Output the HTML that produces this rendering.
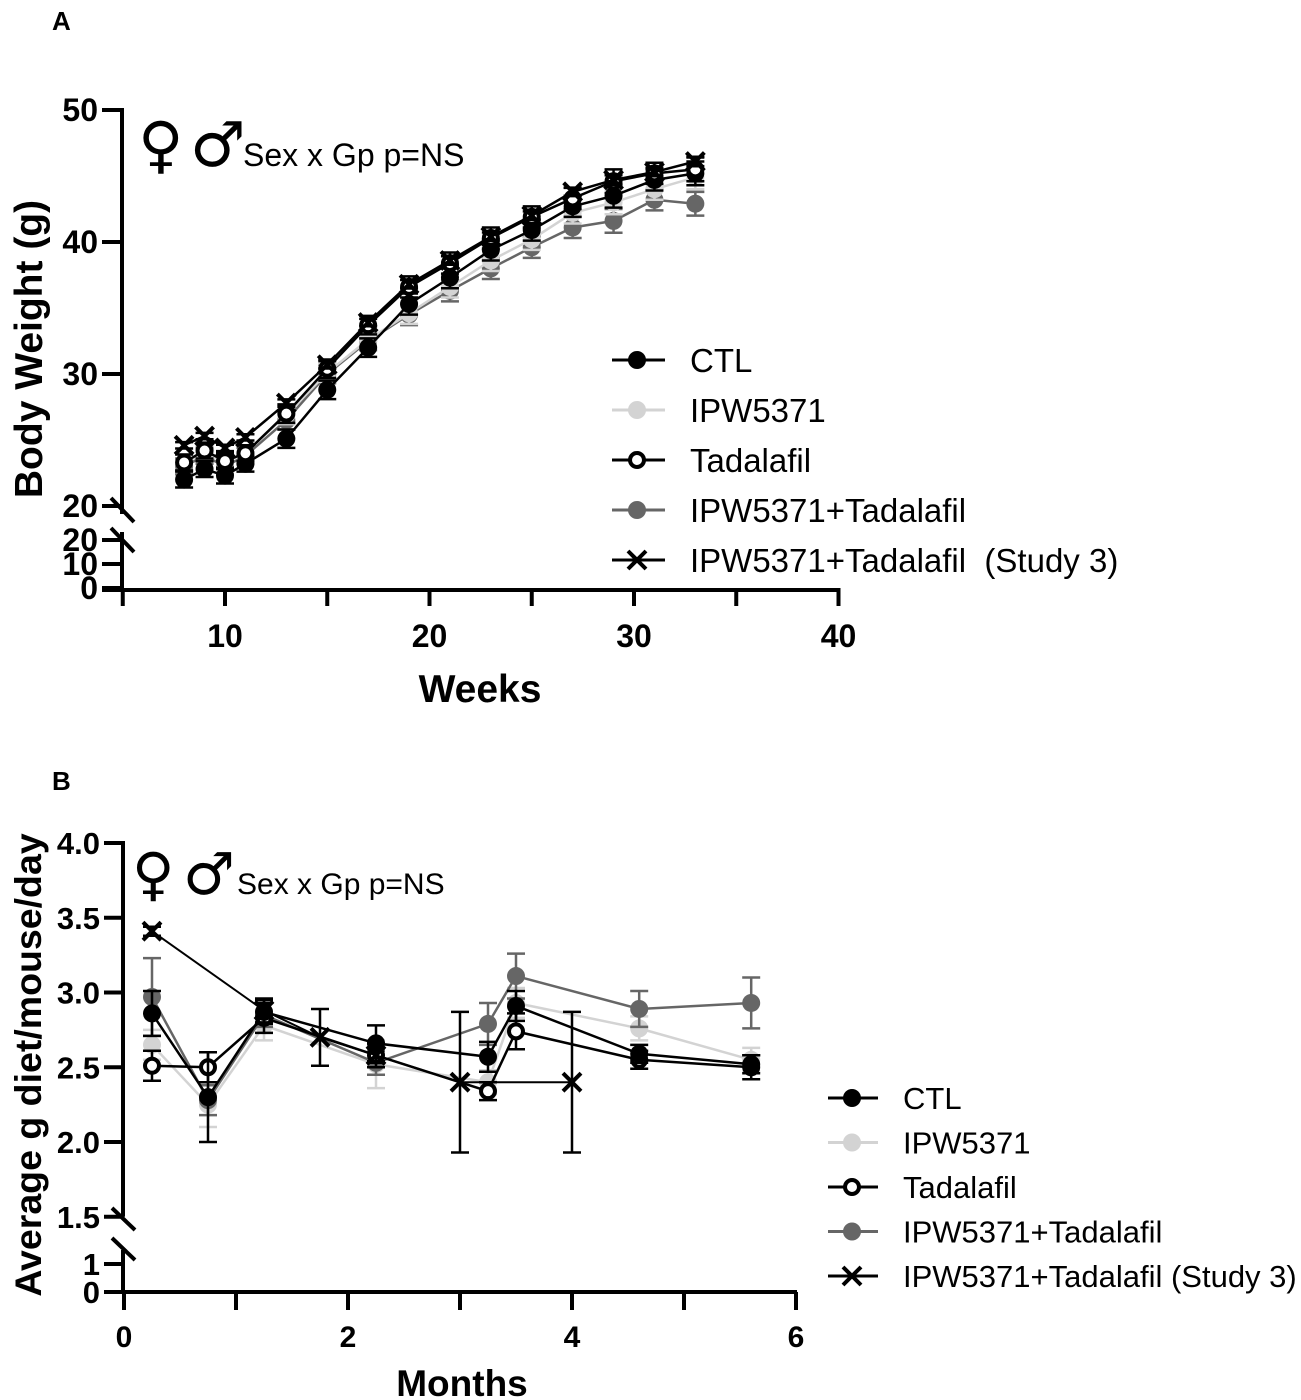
<!DOCTYPE html>
<html><head><meta charset="utf-8"><style>
html,body{margin:0;padding:0;background:#fff;}
svg{display:block;font-family:"Liberation Sans",Arial,sans-serif;}
.sym{font-family:"DejaVu Sans",sans-serif;font-weight:bold;}
</style></head><body>
<svg id="fig" width="1301" height="1400" viewBox="0 0 1301 1400">
<g id="A">
<text x="52" y="30" font-size="26" font-weight="bold">A</text>
<text class="sym" x="138" y="166" font-size="62">♀</text>
<text class="sym" x="190" y="166" font-size="62">♂</text>
<text x="243" y="166" font-size="32">Sex x Gp p=NS</text>
<text transform="translate(42,349) rotate(-90)" text-anchor="middle" font-size="39" font-weight="bold">Body Weight (g)</text>
<text x="480" y="702" text-anchor="middle" font-size="39" font-weight="bold">Weeks</text>
</g>
<g id="B">
<text x="52" y="790" font-size="26" font-weight="bold">B</text>
<text class="sym" x="132" y="894" font-size="58">♀</text>
<text class="sym" x="183" y="894" font-size="58">♂</text>
<text x="237" y="894" font-size="30">Sex x Gp p=NS</text>
<text transform="translate(41,1065) rotate(-90)" text-anchor="middle" font-size="37.5" font-weight="bold">Average g diet/mouse/day</text>
<text x="462" y="1396" text-anchor="middle" font-size="37" font-weight="bold">Months</text>
</g>
</svg>
<script>
// ---------- Panel A data ----------
const weeksA = [8,9,10,11,13,15,17,19,21,23,25,27,29,31,33];
const ctlA = [22.0,22.8,22.3,23.2,25.1,28.8,32.0,35.3,37.3,39.4,40.9,42.7,43.5,44.7,45.2];
const ipwA = [23.3,24.0,23.3,24.0,26.9,30.1,32.6,34.6,36.6,38.6,40.2,42.2,43.0,44.0,44.9];
const tadA = [23.3,24.2,23.4,24.0,27.0,30.4,33.7,36.6,38.4,40.3,41.9,43.3,44.6,45.2,45.5];
const comboA = [23.0,23.8,23.0,23.8,26.5,30.0,32.5,34.5,36.3,38.0,39.6,41.1,41.6,43.2,42.9];
const study3A = [24.6,25.3,24.4,25.2,27.8,30.7,33.9,36.8,38.6,40.4,42.0,43.8,44.7,45.3,46.1];
const errA = [0.6,0.6,0.6,0.6,0.7,0.7,0.7,0.8,0.8,0.8,0.8,0.8,0.9,0.8,0.9];
const xTicksA = [10,20,30,40];
const yTicksA = [20,30,40,50];
const yTicksALow = [0,10,20];
const legendLabelsA = ["CTL","IPW5371","Tadalafil","IPW5371+Tadalafil","IPW5371+Tadalafil\u00a0\u00a0(Study 3)"];

// ---------- Panel B data ----------
const monthsB = [0.25,0.75,1.25,2.25,3.25,3.5,4.6,5.6];
const ctlB = [2.86,2.30,2.87,2.66,2.57,2.91,2.59,2.52];
const ctlBErr = [0.15,0.30,0.08,0.12,0.10,0.10,0.06,0.06];
const ipwB = [2.65,2.25,2.78,2.52,2.40,2.93,2.76,2.55];
const ipwBErr = [0.10,0.15,0.10,0.16,0.08,0.10,0.08,0.08];
const tadB = [2.51,2.50,2.83,2.58,2.34,2.74,2.55,2.50];
const tadBErr = [0.10,0.10,0.10,0.08,0.06,0.12,0.06,0.08];
const comboB = [2.97,2.28,2.85,2.53,2.79,3.11,2.89,2.93];
const comboBErr = [0.26,0.10,0.08,0.08,0.14,0.15,0.12,0.17];
const monthsX = [0.25,1.25,1.75,2.25,3.0,4.0];
const study3B = [3.41,2.88,2.70,2.58,2.40,2.40];
const study3BErr = [0.03,0.08,0.19,0.05,0.47,0.47];
const xTicksB = [0,2,4,6];
const yTicksB = [1.5,2.0,2.5,3.0,3.5,4.0];
const yTicksBLow = [0,1];
const legendLabelsB = ["CTL","IPW5371","Tadalafil","IPW5371+Tadalafil","IPW5371+Tadalafil (Study 3)"];

const NS="http://www.w3.org/2000/svg";
const svg=document.getElementById('fig');
function mk(tag,attrs,parent){const e=document.createElementNS(NS,tag);for(const k in attrs)e.setAttribute(k,attrs[k]);(parent||svg).appendChild(e);return e;}

const xA=v=>20.5+v*20.45;
const yA=v=>110+(50-v)*13.2;
const yALow=v=>588-v*2.4;
const xB=v=>124+v*112;
const yB=v=>843+(4-v)*149.5;
const yBLow=v=>1292-v*28;

const styles=[
 {stroke:"#000",fill:"#000",type:"dot"},
 {stroke:"#d3d3d3",fill:"#d3d3d3",type:"dot"},
 {stroke:"#000",fill:"#fff",type:"open"},
 {stroke:"#666",fill:"#666",type:"dot"},
 {stroke:"#000",fill:"none",type:"x"}
];

function marker(g,x,y,s,r){
 if(s.type==="x"){
  const p=mk('path',{d:`M${x-r} ${y-r}L${x+r} ${y+r}M${x-r} ${y+r}L${x+r} ${y-r}`,stroke:s.stroke,'stroke-width':4,fill:'none'},g);
  
  
 } else if(s.type==="open"){
  const c=mk('circle',{cx:x,cy:y,r:r-2,fill:'#fff',stroke:s.stroke,'stroke-width':4},g);
  
  
 } else {
  const c=mk('circle',{cx:x,cy:y,r:r,fill:s.fill},g);
  
  
 }
}
function series(xs,ys,errs,xf,yf,s,name,r,lw){
 const g=mk('g',{});
 
 
 for(let i=0;i<xs.length;i++){
  const x=xf(xs[i]),e=errs[i];
  const y1=yf(ys[i]+e),y2=yf(ys[i]-e);
  const eb=mk('path',{d:`M${x} ${y1}L${x} ${y2}M${x-9} ${y1}L${x+9} ${y1}M${x-9} ${y2}L${x+9} ${y2}`,stroke:s.stroke,'stroke-width':2.5,fill:'none'},g);
  
  
 }
 const pts=xs.map((v,i)=>xf(v)+","+yf(ys[i])).join(" ");
 const pl=mk('polyline',{points:pts,fill:'none',stroke:s.stroke,'stroke-width':lw},g);
 
 
 for(let i=0;i<xs.length;i++)marker(g,xf(xs[i]),yf(ys[i]),s,r);
}
function txt(x,y,s,attrs,name){const t=mk('text',Object.assign({x:x,y:y},attrs));t.textContent=s;return t;}

{
 const g=mk('g',{stroke:'#000','stroke-width':4,fill:'none'});
 
 
 mk('path',{d:`M102 ${yA(50)}H122V${yA(20)+8}`},g);
 mk('path',{d:`M122 ${yALow(20)-8}V590M102 590H838`},g);
 mk('path',{d:`M111 498L134 522M111 528L134 552`},g);
 yTicksA.forEach(v=>mk('path',{d:`M102 ${yA(v)}H122`},g));
 yTicksALow.forEach(v=>mk('path',{d:`M102 ${yALow(v)}H122`},g));
 [5,10,15,20,25,30,35,40].forEach(v=>mk('path',{d:`M${xA(v)} 588V606`},g));
 yTicksA.forEach(v=>txt(98,yA(v)+11,v,{'font-size':32,'font-weight':'bold','text-anchor':'end'},'y-tick-label-a'));
 yTicksALow.forEach(v=>txt(98,yALow(v)+11,v,{'font-size':32,'font-weight':'bold','text-anchor':'end'},'y-tick-label-a-low'));
 xTicksA.forEach(v=>txt(xA(v),647,v,{'font-size':32,'font-weight':'bold','text-anchor':'middle'},'x-tick-label-a'));
}
series(weeksA,comboA,errA,xA,yA,styles[3],'series-combo-a',9,2.5);
series(weeksA,ipwA,errA,xA,yA,styles[1],'series-ipw5371-a',9,2.5);
series(weeksA,ctlA,errA,xA,yA,styles[0],'series-ctl-a',9,2.5);
series(weeksA,tadA,errA,xA,yA,styles[2],'series-tadalafil-a',9,2.5);
series(weeksA,study3A,errA.map(e=>e*0.4),xA,yA,styles[4],'series-study3-a',9,2.5);
legendLabelsA.forEach((l,i)=>{
 const y=360+i*50;
 const g=mk('g',{});
 
 
 mk('path',{d:`M612 ${y}H665`,stroke:styles[i].stroke,'stroke-width':3},g);
 marker(g,637,y,styles[i],9);
 txt(690,y+12,l,{'font-size':33},'legend-label-a');
});

{
 const g=mk('g',{stroke:'#000','stroke-width':4,fill:'none'});
 
 
 mk('path',{d:`M104 ${yB(4)}H123V${yB(1.5)}`},g);
 mk('path',{d:`M123 1250V1294M104 1292H797`},g);
 mk('path',{d:`M112 1208L135 1230M112 1238L135 1260`},g);
 yTicksB.forEach(v=>mk('path',{d:`M104 ${yB(v)}H123`},g));
 yTicksBLow.forEach(v=>mk('path',{d:`M104 ${yBLow(v)}H123`},g));
 [0,1,2,3,4,5,6].forEach(v=>mk('path',{d:`M${xB(v)} 1292V1310`},g));
 yTicksB.forEach(v=>txt(100,yB(v)+11,v.toFixed(1),{'font-size':31,'font-weight':'bold','text-anchor':'end'},'y-tick-label-b'));
 yTicksBLow.forEach(v=>txt(100,yBLow(v)+11,v,{'font-size':31,'font-weight':'bold','text-anchor':'end'},'y-tick-label-b-low'));
 xTicksB.forEach(v=>txt(xB(v),1347,v,{'font-size':30,'font-weight':'bold','text-anchor':'middle'},'x-tick-label-b'));
}
series(monthsB,ipwB,ipwBErr,xB,yB,styles[1],'series-ipw5371-b',9,2.5);
series(monthsB,comboB,comboBErr,xB,yB,styles[3],'series-combo-b',9,2.5);
series(monthsB,tadB,tadBErr,xB,yB,styles[2],'series-tadalafil-b',9,2.5);
series(monthsB,ctlB,ctlBErr,xB,yB,styles[0],'series-ctl-b',9,2.5);
series(monthsX,study3B,study3BErr,xB,yB,styles[4],'series-study3-b',9,2);
legendLabelsB.forEach((l,i)=>{
 const y=1098+i*44.5;
 const g=mk('g',{});
 
 
 mk('path',{d:`M828 ${y}H878`,stroke:styles[i].stroke,'stroke-width':3},g);
 marker(g,852,y,styles[i],9);
 txt(903,y+11,l,{'font-size':31},'legend-label-b');
});
</script>
</body></html>
